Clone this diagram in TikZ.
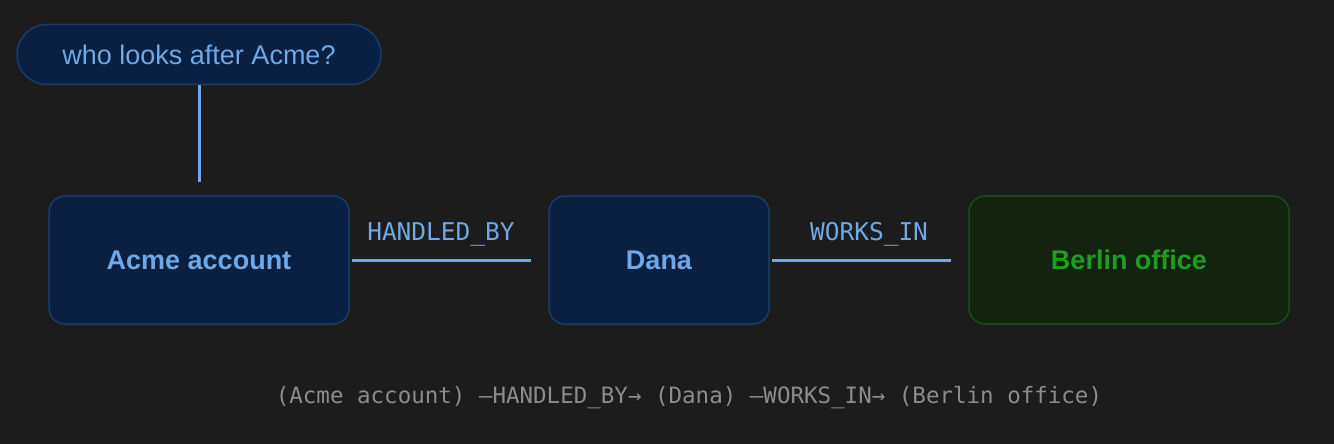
\documentclass[tikz,border=0pt]{standalone}
\usepackage{fontspec}
\setmainfont{Liberation Sans}
\setmonofont{DejaVu Sans Mono}
\usetikzlibrary{positioning}
\definecolor{canvas}{HTML}{1C1C1C}
\definecolor{nodefill}{HTML}{0A2043}
\definecolor{nodeline}{HTML}{1B3C6A}
\definecolor{nodetext}{HTML}{6EA8E6}
\definecolor{placefill}{HTML}{13230F}
\definecolor{placeline}{HTML}{1B4A1B}
\definecolor{placetext}{HTML}{1E9E1E}
\definecolor{pathtext}{HTML}{8C8C8C}

\begin{document}
\begin{tikzpicture}[x=1pt, y=-1pt,
		entity/.style={draw=nodeline, line width=1.5pt, rounded corners=16pt, fill=nodefill, text=nodetext, minimum height=128pt, font=\fontsize{27}{32}\selectfont\bfseries},
		place/.style={entity, draw=placeline, fill=placefill, text=placetext},
		query/.style={draw=nodeline, line width=1.5pt, rounded corners=30pt, fill=nodefill, text=nodetext, minimum height=60pt, minimum width=364pt, font=\fontsize{27}{32}\selectfont},
		rel/.style={draw=nodetext, line width=3pt, shorten <=2pt, shorten >=17pt},
		rellabel/.style={midway, anchor=base, yshift=20pt, text=nodetext, font=\ttfamily\fontsize{24.5}{28}\selectfont},
		node distance=198.5pt
		]
		
		\fill[canvas] (0,0) rectangle (1334,444);
		\useasboundingbox (0,0) rectangle (1334,444);
		
		\node[entity, minimum width=300pt] (acme) at (199,260) {Acme account};
		\node[entity, minimum width=220pt, right=of acme] (dana) {Dana};
		\node[place, minimum width=320pt, right=of dana] (berlin) {Berlin office};
		\node[query, above=110pt of acme] (ask) {who looks after Acme?};
		
		\draw[rel, shorten <=0pt, shorten >=13pt] (ask) -- (acme);
		\draw[rel] (acme) -- node[rellabel, xshift=-8pt]{HANDLED\_BY} (dana);
		\draw[rel] (dana) -- node[rellabel]{WORKS\_IN} (berlin);
		
		% path summary
		\node[text=pathtext, font=\ttfamily\fontsize{22.5}{26}\selectfont] (trail) at (689,398) {(Acme account) —HANDLED\_BY→ (Dana) —WORKS\_IN→ (Berlin office)};
	\end{tikzpicture}
\end{document}
